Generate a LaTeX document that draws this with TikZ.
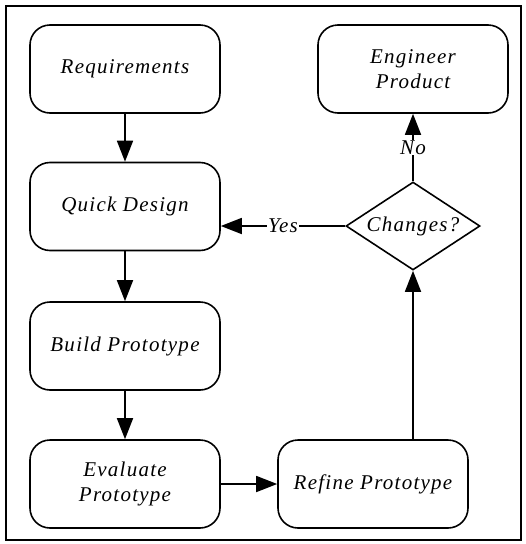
\documentclass[tikz,border=0pt]{standalone}
\usepackage{fontspec}
\setmainfont{Liberation Serif}
\usetikzlibrary{arrows.meta,shapes.geometric}
\newcommand\lbltxt{\fontsize{21}{25}\selectfont\itshape\addfontfeatures{LetterSpace=6}}
\begin{document}
\begin{tikzpicture}[x=1pt,y=-1pt,
  box/.style={draw,rounded corners=20pt,line width=1.6pt,minimum width=190pt,minimum height=88pt,align=center,font=\lbltxt,inner sep=0pt},
  decision/.style={draw,diamond,line width=1.6pt,minimum width=134pt,minimum height=88pt,aspect=1.52,inner sep=0pt,font=\lbltxt},
  arr/.style={-{Triangle[length=21pt,width=16pt]},line width=1.6pt},
  lab/.style={fill=white,inner sep=1pt,font=\lbltxt}]
\useasboundingbox (0,0) rectangle (526,544);
\draw[line width=2pt] (6,6) rectangle (521,540);
\node[box] (req) at (125,69) {Requirements};
\node[box] (qd) at (125,206.5) {Quick Design};
\node[box] (bp) at (125,346) {Build Prototype};
\node[box] (ev) at (125,484) {Evaluate\\Prototype};
\node[box] (rf) at (373,484) {Refine Prototype};
\node[box] (eng) at (413,69) {Engineer\\Product};
\node[decision] (ch) at (413,226) {Changes?};
\draw[arr] (req) -- (qd);
\draw[arr] (qd) -- (bp);
\draw[arr] (bp) -- (ev);
\draw[arr] (ev) -- (rf);
\draw[arr] (ch.south |- rf.north) -- (ch.south);
\draw[arr] (ch.north) -- (eng.south) node[midway,lab] {No};
\draw[arr] (ch.west) -- (qd.east |- ch.west) node[midway,lab] {Yes};
\end{tikzpicture}
\end{document}
